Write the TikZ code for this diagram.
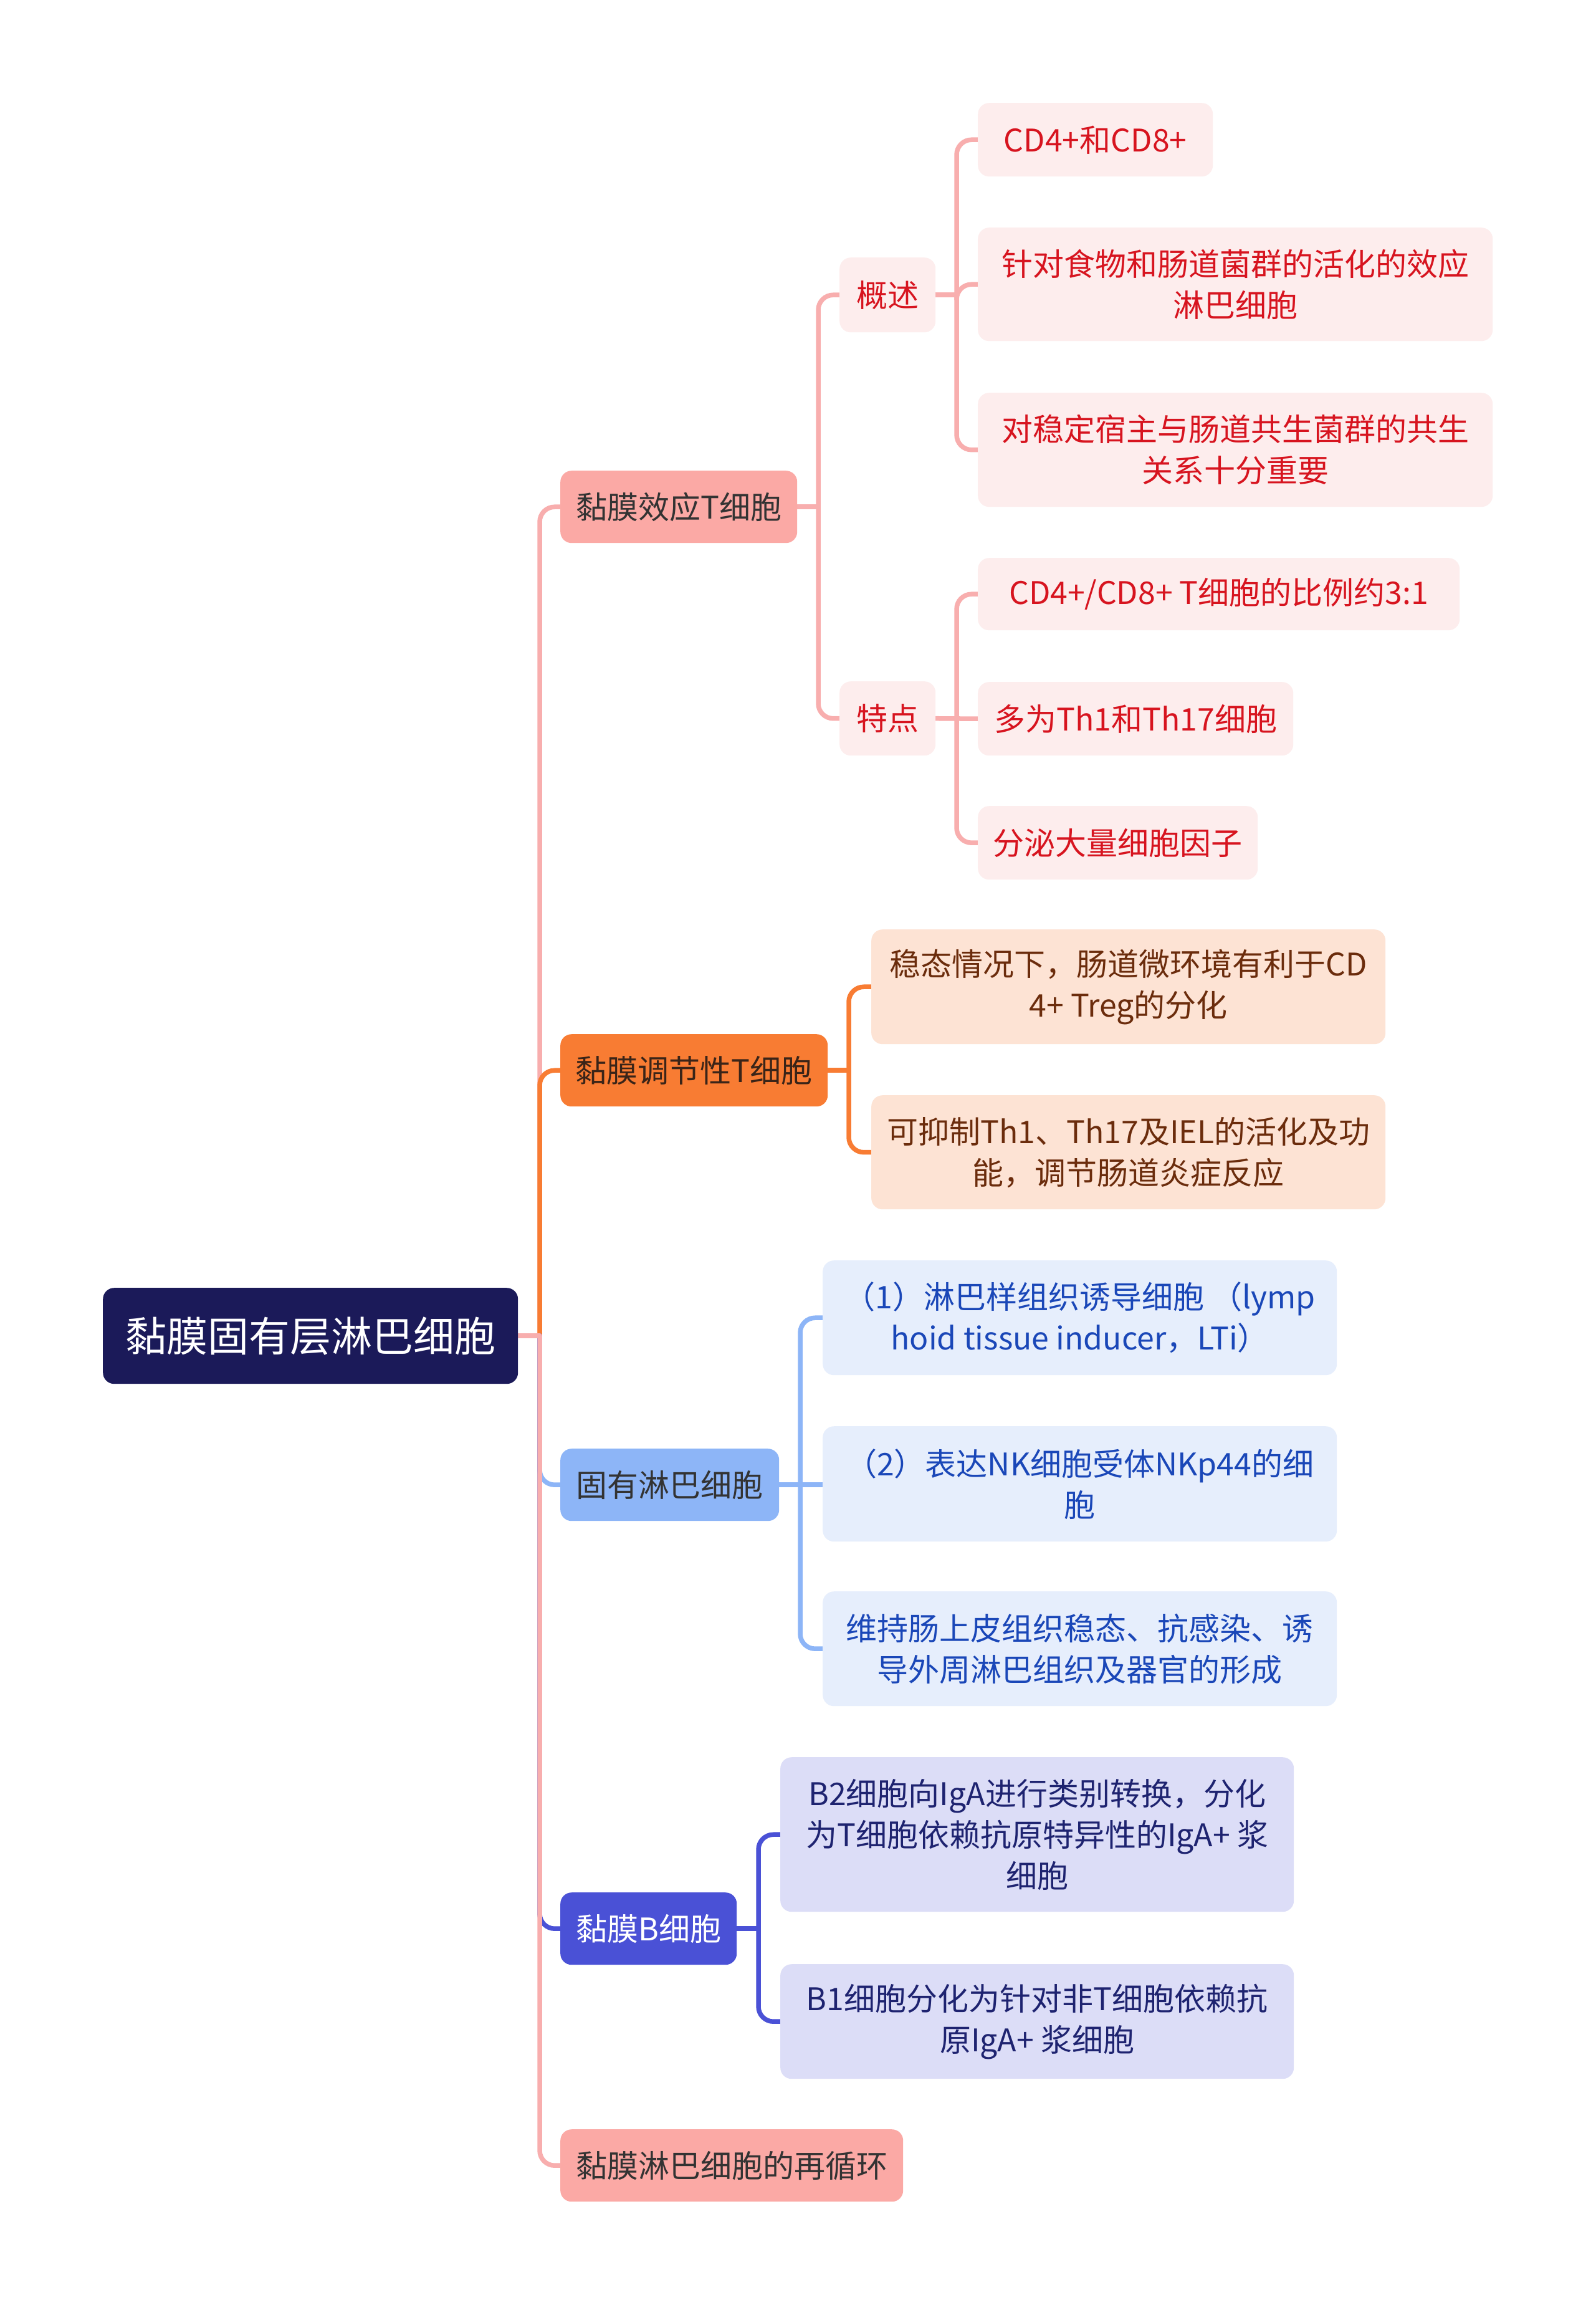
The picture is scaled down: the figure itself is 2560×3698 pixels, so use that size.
\documentclass[tikz,border=0pt]{standalone}
\usepackage{fontspec}
\setmainfont{Noto Sans CJK SC}
\usetikzlibrary{backgrounds}
\definecolor{cRoot}{HTML}{1B1A59}
\definecolor{cPink}{HTML}{FBA9A5}
\definecolor{cPinkLine}{HTML}{F8AEAE}
\definecolor{cOrange}{HTML}{F87C33}
\definecolor{cBlue}{HTML}{8DB5F7}
\definecolor{cIndigo}{HTML}{4A51D6}
\definecolor{cPinkL}{HTML}{FDEDED}
\definecolor{cRed}{HTML}{D7141F}
\definecolor{cPeach}{HTML}{FDE3D4}
\definecolor{cBrown}{HTML}{6B2C0C}
\definecolor{cBlueL}{HTML}{E6EEFC}
\definecolor{cBlueT}{HTML}{1A47B8}
\definecolor{cLav}{HTML}{DCDDF7}
\definecolor{cNavyT}{HTML}{1E2370}
\definecolor{cDark}{HTML}{333333}
\definecolor{cDarkBr}{HTML}{3A2418}
\tikzset{
  base/.style={rectangle, rounded corners=18pt, inner sep=0pt, anchor=north west, align=center,
    font=\fontsize{50}{66}\selectfont},
  rootbox/.style={base, fill=cRoot, text=white, font=\fontsize{66}{80}\selectfont},
  redbox/.style={base, fill=cPinkL, text=cRed},
  peachbox/.style={base, fill=cPeach, text=cBrown},
  bluebox/.style={base, fill=cBlueL, text=cBlueT},
  lavbox/.style={base, fill=cLav, text=cNavyT},
  conn/.style={line width=7.5pt, line cap=round, line join=round, rounded corners=24pt},
}
\begin{document}
\begin{tikzpicture}[x=1pt,y=-1pt]
\useasboundingbox (0,0) rectangle (2560,3698);
% root
\node[rootbox, minimum width=666pt, minimum height=154pt] (root) at (165,2066) {黏膜固有层淋巴细胞};
% level 1
\node[base, fill=cPink, text=cDark, minimum width=380pt, minimum height=116pt] (ef) at (899,755) {黏膜效应T细胞};
\node[base, fill=cOrange, text=cDarkBr, minimum width=429pt, minimum height=116pt] (reg) at (899,1659) {黏膜调节性T细胞};
\node[base, fill=cBlue, text=cDark, minimum width=351pt, minimum height=116pt] (ilc) at (899,2324) {固有淋巴细胞};
\node[base, fill=cIndigo, text=white, minimum width=283pt, minimum height=116pt] (bc) at (899,3036) {黏膜B细胞};
\node[base, fill=cPink, text=cDark, minimum width=550pt, minimum height=116pt] (rec) at (899,3416) {黏膜淋巴细胞的再循环};
% level 2 under effector
\node[redbox, minimum width=154pt, minimum height=120pt] (gs) at (1347,413) {概述};
\node[redbox, minimum width=154pt, minimum height=119pt] (td) at (1347,1093) {特点};
% level 3
\node[redbox, minimum width=377pt, minimum height=118pt] (g1) at (1569,165) {CD4+和CD8+};
\node[redbox, minimum width=826pt, minimum height=182pt] (g2) at (1569,365) {针对食物和肠道菌群的活化的效应\\淋巴细胞};
\node[redbox, minimum width=826pt, minimum height=183pt] (g3) at (1569,630) {对稳定宿主与肠道共生菌群的共生\\关系十分重要};
\node[redbox, minimum width=773pt, minimum height=116pt] (t1) at (1569,895) {CD4+/CD8+ T细胞的比例约3:1};
\node[redbox, minimum width=506pt, minimum height=118pt] (t2) at (1569,1094) {多为Th1和Th17细胞};
\node[redbox, minimum width=449pt, minimum height=118pt] (t3) at (1569,1293) {分泌大量细胞因子};
% regulatory children
\node[peachbox, minimum width=825pt, minimum height=184pt] (r1) at (1398,1491) {稳态情况下，肠道微环境有利于CD\\4+ Treg的分化};
\node[peachbox, minimum width=825pt, minimum height=183pt] (r2) at (1398,1757) {可抑制Th1、Th17及IEL的活化及功\\能，调节肠道炎症反应};
% ILC children
\node[bluebox, minimum width=825pt, minimum height=184pt] (i1) at (1320,2022) {（1）淋巴样组织诱导细胞 （lymp\\hoid tissue inducer，LTi）};
\node[bluebox, minimum width=825pt, minimum height=185pt] (i2) at (1320,2288) {（2）表达NK细胞受体NKp44的细\\胞};
\node[bluebox, minimum width=825pt, minimum height=184pt] (i3) at (1320,2553) {维持肠上皮组织稳态、抗感染、诱\\导外周淋巴组织及器官的形成};
% B children
\node[lavbox, minimum width=824pt, minimum height=248pt] (b1) at (1252,2819) {B2细胞向IgA进行类别转换，分化\\为T细胞依赖抗原特异性的IgA+ 浆\\细胞};
\node[lavbox, minimum width=824pt, minimum height=184pt] (b2) at (1252,3151) {B1细胞分化为针对非T细胞依赖抗\\原IgA+ 浆细胞};
% trunk x positions
\coordinate (x0) at (866,0);
\coordinate (x1) at (1313,0);
\coordinate (x2) at (1535,0);
\coordinate (x3) at (1362,0);
\coordinate (x4) at (1284,0);
\coordinate (x5) at (1217,0);
\begin{scope}[on background layer]
\fill[white] (0,0) rectangle (2560,3698);
% level 1 connectors
\foreach \c/\col in {ef/cPinkLine, reg/cOrange, ilc/cBlue, bc/cIndigo, rec/cPinkLine}{
  \draw[conn, draw=\col] (root.east) -- (root.east -| x0);
  \draw[conn, draw=\col] (root.east -| x0) |- (\c.west);
}
% effector
\foreach \c in {gs, td}{
  \draw[conn, draw=cPinkLine] (ef.east) -- (ef.east -| x1);
  \draw[conn, draw=cPinkLine] (ef.east -| x1) |- (\c.west);
}
\foreach \c in {g1, g2, g3}{
  \draw[conn, draw=cPinkLine] (gs.east) -- (gs.east -| x2);
  \draw[conn, draw=cPinkLine] (gs.east -| x2) |- (\c.west);
}
\draw[conn, draw=cPinkLine] (td.east) -- (td.east -| x2);
\draw[conn, draw=cPinkLine] (td.east -| x2) |- (t1.west);
\draw[conn, draw=cPinkLine] (td.east -| x2) |- (t3.west);
\draw[conn, draw=cPinkLine] (td.east) -- (t2.west);
% regulatory
\foreach \c in {r1, r2}{
  \draw[conn, draw=cOrange] (reg.east) -- (reg.east -| x3);
  \draw[conn, draw=cOrange] (reg.east -| x3) |- (\c.west);
}
% ILC
\draw[conn, draw=cBlue] (ilc.east) -- (ilc.east -| x4);
\draw[conn, draw=cBlue] (ilc.east -| x4) |- (i1.west);
\draw[conn, draw=cBlue] (ilc.east -| x4) |- (i3.west);
\draw[conn, draw=cBlue] (ilc.east) -- (ilc.east -| i2.west);
% B
\foreach \c in {b1, b2}{
  \draw[conn, draw=cIndigo] (bc.east) -- (bc.east -| x5);
  \draw[conn, draw=cIndigo] (bc.east -| x5) |- (\c.west);
}
\end{scope}
\end{tikzpicture}
\end{document}
